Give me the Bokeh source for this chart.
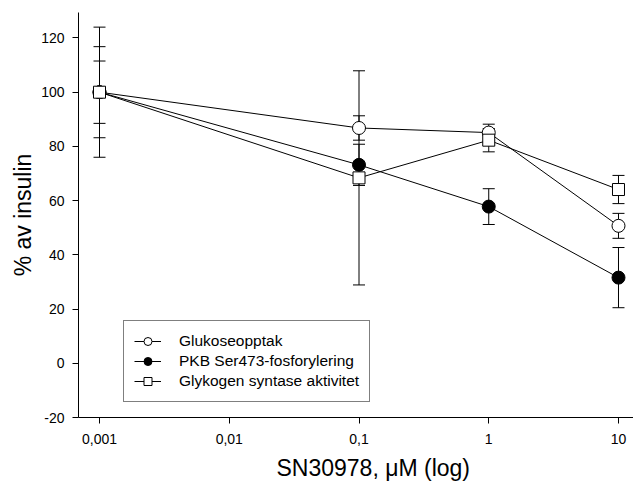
from bokeh.plotting import figure
from bokeh.models import (Range1d, FixedTicker, Whisker, TeeHead, ColumnDataSource,
                          Legend, LegendItem, Title)
from bokeh.embed import file_html
from bokeh.resources import INLINE

# ---- data ----
concentration = [0.001, 0.1, 1, 10]
glukose = [100, 86.8, 85.1, 50.7]
glukose_err = [11.5, 4.5, 3.1, 4.6]
pkb = [100, 73.2, 57.8, 31.6]
pkb_err = [24.0, 7.6, 6.6, 11.1]
glykogen = [100, 68.4, 82.3, 64.1]
glykogen_err = [16.8, 39.5, 4.3, 5.2]
series_names = ["Glukoseopptak", "PKB Ser473-fosforylering", "Glykogen syntase aktivitet"]
x_ticks = [0.001, 0.01, 0.1, 1, 10]
x_tick_labels = ["0,001", "0,01", "0,1", "1", "10"]
y_ticks = [-20, 0, 20, 40, 60, 80, 100, 120]
y_tick_labels = ["-20", "0", "20", "40", "60", "80", "100", "120"]
x_title = "SN30978, \u03bcM (log)"
y_title = "% av insulin"

FONT = "Liberation Sans"
DECADE = 129.7  # px per decade on the reference

p = figure(width=633, height=488, x_axis_type="log", output_backend="svg",
           toolbar_location=None,
           x_range=Range1d(10 ** (-3 - 21 / DECADE), 10 ** (1 + 15 / DECADE)),
           y_range=Range1d(-20, 129.4),
           min_border_left=78, min_border_right=0, min_border_top=12,
           min_border_bottom=71)
p.outline_line_color = None
p.grid.visible = False
p.background_fill_color = "white"
p.border_fill_color = "white"

for ax in (p.xaxis[0], p.yaxis[0]):
    ax.major_tick_out = 6
    ax.major_tick_in = 0
    ax.minor_tick_out = 0
    ax.minor_tick_in = 0
    ax.axis_line_color = "black"
    ax.major_tick_line_color = "black"
    ax.major_label_text_font = FONT
    ax.major_label_text_font_size = "14px"
    ax.major_label_text_color = "black"

p.xaxis.ticker = FixedTicker(ticks=x_ticks, minor_ticks=[])
p.xaxis.major_label_overrides = dict(zip(x_ticks, x_tick_labels))
p.xaxis.major_label_standoff = 10

p.yaxis.ticker = FixedTicker(ticks=y_ticks, minor_ticks=[])
p.yaxis.major_label_overrides = dict(zip(y_ticks, y_tick_labels))
p.yaxis.major_label_standoff = 8
p.yaxis.axis_label = y_title
p.yaxis.axis_label_text_font = FONT
p.yaxis.axis_label_text_font_size = "23px"
p.yaxis.axis_label_text_font_style = "normal"
p.yaxis.axis_label_text_color = "black"
p.yaxis.axis_label_standoff = 2

p.add_layout(Title(text=x_title, align="left", offset=198, text_font=FONT,
                   text_font_size="23px", text_font_style="normal",
                   text_color="black", standoff=12), "below")

series = [
    (glukose, glukose_err, "circle", "white"),
    (pkb, pkb_err, "circle", "black"),
    (glykogen, glykogen_err, "square", "white"),
]

items = []
for (vals, errs, marker, fill), name in zip(series, series_names):
    src = ColumnDataSource(dict(
        x=concentration, y=vals,
        upper=[v + e for v, e in zip(vals, errs)],
        lower=[v - e for v, e in zip(vals, errs)],
    ))
    w = Whisker(source=src, base="x", upper="upper", lower="lower",
                dimension="height", level="underlay",
                line_color="black", line_width=1,
                upper_head=TeeHead(size=12, line_color="black", line_width=1),
                lower_head=TeeHead(size=12, line_color="black", line_width=1))
    p.add_layout(w)
    lr = p.line("x", "y", source=src, line_color="black", line_width=1)
    sr = p.scatter("x", "y", source=src, marker=marker,
                   size=13 if marker == "circle" else 12,
                   fill_color=fill, line_color="black", line_width=1)
    items.append(LegendItem(label=name, renderers=[lr, sr]))

legend = Legend(items=items, location=(45, 15), margin=0,
                border_line_color="black", border_line_width=1,
                background_fill_color="white", background_fill_alpha=1,
                label_text_font=FONT, label_text_font_size="15.5px",
                label_text_color="black",
                glyph_width=27, glyph_height=20, label_height=20,
                spacing=0, padding=10, label_standoff=18)
p.add_layout(legend)

open("out.html", "w").write(file_html(p, INLINE))
